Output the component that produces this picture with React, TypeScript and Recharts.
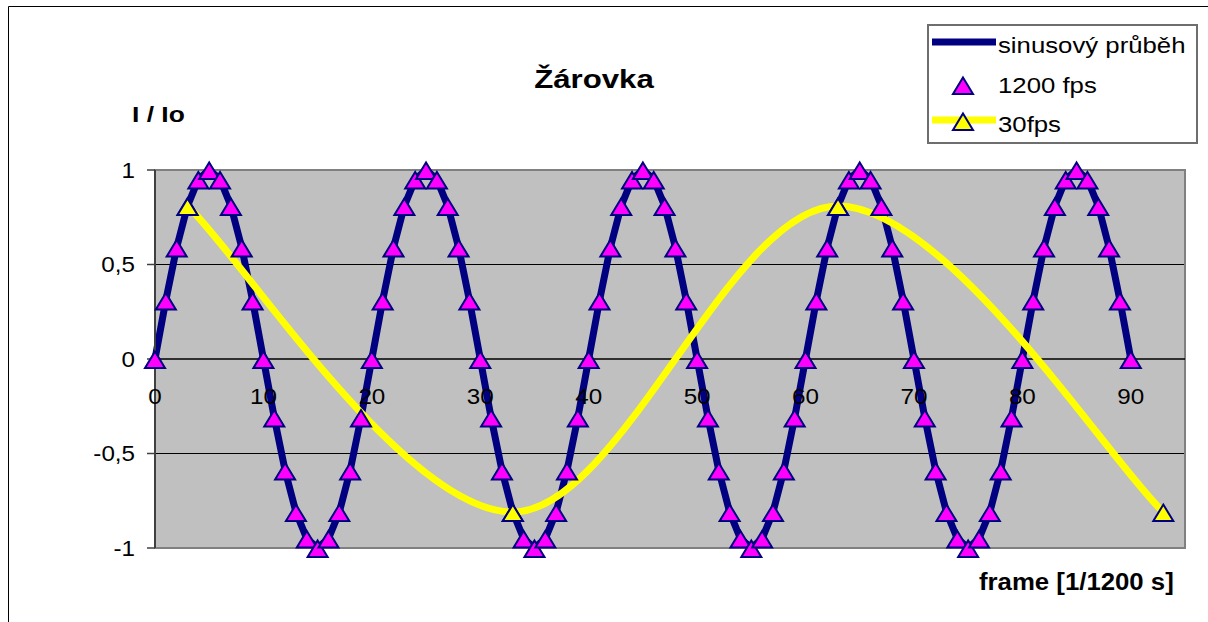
import {
  CartesianGrid,
  Legend,
  Line,
  LineChart,
  ReferenceArea,
  ReferenceLine,
  XAxis,
  YAxis,
} from 'recharts';

// průběh jasu po snímcích při 1200 fps (snímek = index)
const sinusValues = [
  0, 0.31, 0.59, 0.81, 0.95, 1, 0.95, 0.81, 0.59, 0.31,
  0, -0.31, -0.59, -0.81, -0.95, -1, -0.95, -0.81, -0.59, -0.31,
  0, 0.31, 0.59, 0.81, 0.95, 1, 0.95, 0.81, 0.59, 0.31,
  0, -0.31, -0.59, -0.81, -0.95, -1, -0.95, -0.81, -0.59, -0.31,
  0, 0.31, 0.59, 0.81, 0.95, 1, 0.95, 0.81, 0.59, 0.31,
  0, -0.31, -0.59, -0.81, -0.95, -1, -0.95, -0.81, -0.59, -0.31,
  0, 0.31, 0.59, 0.81, 0.95, 1, 0.95, 0.81, 0.59, 0.31,
  0, -0.31, -0.59, -0.81, -0.95, -1, -0.95, -0.81, -0.59, -0.31,
  0, 0.31, 0.59, 0.81, 0.95, 1, 0.95, 0.81, 0.59, 0.31,
  0,
];

// vzorky při 30 fps
const fps30Frames = [3, 33, 63, 93];
const fps30Values = [0.81, -0.81, 0.81, -0.81];

const xTicks = [0, 10, 20, 30, 40, 50, 60, 70, 80, 90];
const yTicks = [-1, -0.5, 0, 0.5, 1];
const xDomain: [number, number] = [0, 95];
const yDomain: [number, number] = [-1, 1];

const seriesNames = ['sinusový průběh', '1200 fps', '30fps'];

const sinusData = sinusValues.map((value, frame) => ({ frame, value }));
const fps30Data = fps30Frames.map((frame, i) => ({ frame, value: fps30Values[i] }));

const PAGE_W = 1208;
const PAGE_H = 622;
const W = 1192;
const H = 606;
const PLOT_TOP = 162;
const PLOT_H = 378;
const ZERO_Y = PLOT_TOP + (PLOT_H * yDomain[1]) / (yDomain[1] - yDomain[0]);
const FONT = '"Liberation Sans", Arial, Helvetica, sans-serif';
const NAVY = '#000080';

// vyhlazená čára jako v Excelu (Bézier, tečny (p2 - p0) / 6)
const excelSmooth = (context: any) => {
  let pts: number[][] = [];
  return {
    areaStart() {},
    areaEnd() {},
    lineStart() {
      pts = [];
    },
    point(x: number, y: number) {
      pts.push([+x, +y]);
    },
    lineEnd() {
      if (!pts.length) return;
      context.moveTo(pts[0][0], pts[0][1]);
      for (let i = 0; i < pts.length - 1; i++) {
        const p0 = pts[i - 1] ?? pts[i];
        const p1 = pts[i];
        const p2 = pts[i + 1];
        const p3 = pts[i + 2] ?? p2;
        context.bezierCurveTo(
          p1[0] + (p2[0] - p0[0]) / 6,
          p1[1] + (p2[1] - p0[1]) / 6,
          p2[0] - (p3[0] - p1[0]) / 6,
          p2[1] - (p3[1] - p1[1]) / 6,
          p2[0],
          p2[1],
        );
      }
    },
  };
};

const trianglePath = (cx: number, cy: number) =>
  `M${cx},${cy - 7.5} L${cx + 10},${cy + 9} L${cx - 10},${cy + 9} Z`;

const triangleDot = (fill: string) => (props: any) => {
  const { cx, cy, index } = props;
  if (cx == null || cy == null) return <g key={index} />;
  return (
    <path key={index} d={trianglePath(cx, cy)} fill={fill} stroke={NAVY} strokeWidth={2} />
  );
};

const fmt = (v: number) => String(v).replace('.', ',');

const YTick = ({ x, y, payload }: any) => (
  <text
    transform={`translate(${x},${y}) scale(1.1,1)`}
    textAnchor="end"
    dy="0.35em"
    fontFamily={FONT}
    fontSize={22}
    fill="#000"
  >
    {fmt(payload.value)}
  </text>
);

// popisky osy x sedí pod nulovou čarou
const XTick = ({ x, payload }: any) => (
  <text
    transform={`translate(${x},${ZERO_Y + 45}) scale(1.1,1)`}
    textAnchor="middle"
    fontFamily={FONT}
    fontSize={22}
    fill="#000"
  >
    {payload.value}
  </text>
);

const LegendBox = () => (
  <svg width={271} height={120} style={{ display: 'block' }}>
    <rect x={1} y={1} width={269} height={118} fill="#fff" stroke="#6e6e6e" strokeWidth={2} />
    <line x1={5} x2={69} y1={18} y2={18} stroke={NAVY} strokeWidth={7} />
    <path d={trianglePath(36, 61)} fill="#FF00FF" stroke={NAVY} strokeWidth={2} />
    <line x1={5} x2={69} y1={96} y2={96} stroke="#FFFF00" strokeWidth={7} />
    <path d={trianglePath(36, 97)} fill="#FFFF00" stroke={NAVY} strokeWidth={2} />
    {seriesNames.map((name, i) => (
      <text
        key={name}
        transform={`translate(71,${[29, 69, 108][i]}) scale(1.12,1)`}
        fontFamily={FONT}
        fontSize={23}
        fill="#000"
      >
        {name}
      </text>
    ))}
  </svg>
);

const textStyle = (size: number, sx: number): React.CSSProperties => ({
  position: 'absolute',
  fontFamily: FONT,
  fontWeight: 700,
  fontSize: size,
  lineHeight: 1,
  whiteSpace: 'nowrap',
  transform: `scaleX(${sx})`,
  transformOrigin: 'left top',
});

export default function App() {
  return (
    <div style={{ position: 'relative', width: PAGE_W, height: PAGE_H, background: '#fff' }}>
      <style>{'body{margin:0;overflow:hidden}'}</style>
      {/* rámeček grafu, přesahuje okraj stránky */}
      <svg
        width={PAGE_W}
        height={PAGE_H}
        style={{ position: 'absolute', left: 0, top: 0, zIndex: 5, pointerEvents: 'none' }}
      >
        <path d={`M8.5,${PAGE_H} V6.5 H${PAGE_W}`} fill="none" stroke="#000" strokeWidth={1} />
      </svg>
      <div style={{ position: 'absolute', left: 8, top: 8, width: W, height: H }}>
        <LineChart width={W} height={H} margin={{ top: PLOT_TOP, right: 15, bottom: 36, left: 87 }}>
          <CartesianGrid
            vertical={false}
            horizontalValues={[-0.5, 0.5]}
            stroke="#000"
            fill="#C0C0C0"
            fillOpacity={1}
          />
          <ReferenceArea
            x1={xDomain[0]}
            x2={xDomain[1]}
            y1={yDomain[0]}
            y2={yDomain[1]}
            fill="none"
            stroke="#808080"
            strokeWidth={2}
          />
          <ReferenceLine y={0} stroke="#000" strokeWidth={1.5} />
          <XAxis
            type="number"
            dataKey="frame"
            domain={xDomain}
            ticks={xTicks}
            height={30}
            axisLine={false}
            tickLine={false}
            tick={<XTick />}
          />
          <YAxis
            type="number"
            domain={yDomain}
            ticks={yTicks}
            width={60}
            axisLine={{ stroke: '#404040', strokeWidth: 2 }}
            tickLine={{ stroke: '#404040', strokeWidth: 1.5 }}
            tickSize={8}
            tickMargin={12}
            tick={<YTick />}
          />
          <Legend
            verticalAlign="middle"
            align="center"
            content={() => <LegendBox />}
            wrapperStyle={{ left: 919, top: 16, width: 271, height: 120 }}
          />
          <Line
            data={sinusData}
            dataKey="value"
            name={seriesNames[0]}
            type="linear"
            stroke={NAVY}
            strokeWidth={7}
            dot={false}
            activeDot={false}
            isAnimationActive={false}
          />
          <Line
            data={fps30Data}
            dataKey="value"
            name={seriesNames[2]}
            type={excelSmooth as any}
            stroke="#FFFF00"
            strokeWidth={7}
            dot={false}
            activeDot={false}
            isAnimationActive={false}
          />
          <Line
            data={sinusData}
            dataKey="value"
            name={seriesNames[1]}
            stroke="none"
            dot={triangleDot('#FF00FF')}
            activeDot={false}
            legendType="none"
            isAnimationActive={false}
          />
          <Line
            data={fps30Data}
            dataKey="value"
            name={seriesNames[2]}
            stroke="none"
            dot={triangleDot('#FFFF00')}
            activeDot={false}
            legendType="none"
            isAnimationActive={false}
          />
        </LineChart>
        <div style={{ ...textStyle(26, 1.2), left: 586, top: 58, transformOrigin: 'center top', transform: 'translateX(-50%) scaleX(1.2)' }}>
          Žárovka
        </div>
        <div style={{ ...textStyle(22, 1.2), left: 124, top: 96 }}>I / Io</div>
        <div style={{ ...textStyle(23, 1.12), left: 971, top: 563 }}>frame [1/1200 s]</div>
      </div>
    </div>
  );
}
